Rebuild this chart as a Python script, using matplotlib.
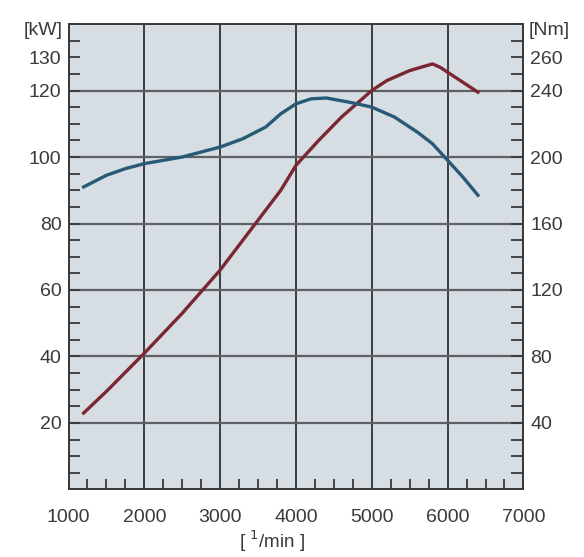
import matplotlib.pyplot as plt
from matplotlib.ticker import MultipleLocator, FixedLocator

plt.rcParams['font.family'] = ['Liberation Sans', 'DejaVu Sans']

# engine speed [1/min]
rpm_power = [1200, 1500, 2000, 2500, 3000, 3500, 3800, 4000, 4300, 4600,
             5000, 5200, 5500, 5800, 5900, 6400]
power_kw = [23, 29.5, 41, 53, 66, 81, 90, 97.5, 105, 112,
            120, 123, 126, 128, 127, 119.5]

rpm_torque = [1200, 1500, 1750, 2000, 2500, 3000, 3300, 3600, 3800, 4000,
              4200, 4400, 4700, 5000, 5300, 5600, 5800, 6000, 6200, 6400]
torque_nm = [182, 189, 193, 196, 200, 206, 211, 218, 226, 232,
             235, 235.5, 233, 230, 224, 215, 208, 198, 188, 177]

x_ticks = [1000, 2000, 3000, 4000, 5000, 6000, 7000]
kw_ticks = [20, 40, 60, 80, 100, 120, 130]
nm_ticks = [40, 80, 120, 160, 200, 240, 260]

text_col = '#3a3a3a'
fig = plt.figure(figsize=(5.84, 5.57), dpi=100)
ax = fig.add_axes([0.1173, 0.1212, 0.779, 0.8357])
ax.set_facecolor('#d6dee3')
ax.set_xlim(1000, 7000)
ax.set_ylim(0, 140)

for v in [2000, 3000, 4000, 5000, 6000]:
    ax.axvline(v, color='#2e3236', lw=1.3, zorder=1)
for h in [20, 40, 60, 80, 100, 120]:
    ax.axhline(h, color='#5e6266', lw=1.6, zorder=1)

ax.plot(rpm_power, power_kw, color='#7a2633', lw=2.4, zorder=3)

ax.xaxis.set_major_locator(FixedLocator(x_ticks))
ax.xaxis.set_minor_locator(MultipleLocator(250))
ax.yaxis.set_major_locator(FixedLocator(kw_ticks))
ax.yaxis.set_minor_locator(MultipleLocator(5))
ax.tick_params(axis='x', which='major', direction='in', length=0, pad=14,
               labelsize=14, labelcolor=text_col)
ax.tick_params(axis='x', which='minor', direction='in', length=7, width=1.3,
               color='#3a3a3a')
ax.tick_params(axis='y', which='both', direction='in', length=8, width=1.3,
               color='#3a3a3a', pad=5, labelsize=14, labelcolor=text_col)
for s in ax.spines.values():
    s.set_color('#3a3a3a')
    s.set_linewidth(1.3)

ax2 = ax.twinx()
ax2.set_ylim(0, 280)
ax2.plot(rpm_torque, torque_nm, color='#285a78', lw=2.4, zorder=3)
ax2.yaxis.set_major_locator(FixedLocator(nm_ticks))
ax2.yaxis.set_minor_locator(MultipleLocator(10))
ax2.tick_params(axis='y', which='both', direction='in', length=9, width=1.3,
                color='#3a3a3a', pad=5, labelsize=14, labelcolor=text_col)
for s in ax2.spines.values():
    s.set_color('#3a3a3a')
    s.set_linewidth(1.3)

fig.text(0.107, 0.946, '[kW]', ha='right', va='center', fontsize=14, color=text_col)
fig.text(0.905, 0.946, '[Nm]', ha='left', va='center', fontsize=14, color=text_col)
fig.text(0.466, 0.028, r'[ $^{1}$/min ]', ha='center', va='center',
         fontsize=13.5, color=text_col)

fig.savefig('out.png', dpi=100)
